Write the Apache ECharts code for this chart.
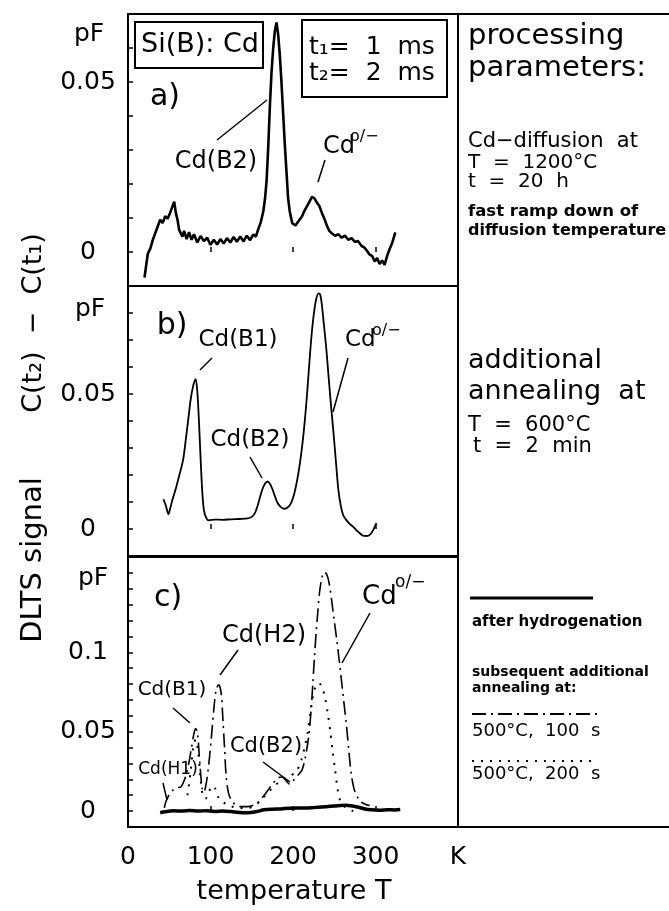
<!DOCTYPE html>
<html><head><meta charset="utf-8">
<script src="https://cdn.jsdelivr.net/npm/echarts@6/dist/echarts.min.js"></script>
<style>html,body{margin:0;padding:0;background:#fff}#c{width:669px;height:911px}</style>
</head><body><div id="c"></div>
<script>
// ---------- DATA ----------
// Panel a) after Cd diffusion
const tempA = [20,22,24,27,30,33,36,39,42,45,48,51,54,56,58,60,62,64,66,68,71,74,77,80,84,88,92,96,100,104,108,112,116,120,124,128,132,136,140,144,148,152,155,158,161,164,166,168,170,172,174,176,178,180,182,184,186,188,190,192,194,196,199,203,207,211,214,217,220,223,226,229,232,235,238,241,244,247,251,255,259,263,267,271,275,279,283,287,290,293,296,299,302,305,308,311,314,317,320,324];
const signalA = [-0.0075,-0.004,-0.0005,0.001,0.0035,0.0055,0.0075,0.0095,0.0085,0.0105,0.0098,0.0115,0.0135,0.0148,0.0115,0.0095,0.0065,0.007,0.0045,0.0062,0.0038,0.0058,0.0036,0.0052,0.0028,0.0047,0.0032,0.0042,0.0021,0.0036,0.0022,0.0038,0.0025,0.0041,0.0028,0.0044,0.003,0.0046,0.0031,0.0048,0.0035,0.0052,0.0045,0.0068,0.0088,0.012,0.0155,0.021,0.031,0.043,0.053,0.06,0.065,0.0675,0.064,0.058,0.05,0.041,0.032,0.024,0.016,0.012,0.0085,0.0078,0.0092,0.0105,0.0122,0.0135,0.0148,0.0162,0.0158,0.0145,0.0135,0.0115,0.0098,0.0078,0.0062,0.0055,0.0048,0.0052,0.0042,0.0048,0.0036,0.0041,0.003,0.0032,0.0018,0.0012,0.0002,-0.0008,-0.0012,-0.0028,-0.0018,-0.0035,-0.0025,-0.0038,-0.0012,0.0008,0.0025,0.0058];

// Panel b) additional annealing 600 C, 2 min
const tempB = [43,46,49,51,54,58,61,64,67,70,73,76,79,82,84,86,88,90,92,95,98,105,115,125,135,145,150,154,157,160,163,166,169,172,175,178,181,185,189,193,197,201,204,207,210,213,216,219,222,225,228,231,233,235,237,240,243,246,249,252,255,258,261,265,269,273,277,281,285,289,293,297,301];
const signalB = [0.011,0.0085,0.0055,0.0075,0.011,0.015,0.0185,0.022,0.026,0.033,0.0405,0.048,0.053,0.0555,0.051,0.04,0.026,0.014,0.007,0.004,0.0032,0.0035,0.0034,0.0036,0.0037,0.0039,0.0045,0.006,0.0085,0.0118,0.0148,0.0168,0.0176,0.0168,0.0148,0.0122,0.0098,0.0082,0.0075,0.0079,0.0092,0.0125,0.0165,0.0215,0.028,0.036,0.046,0.058,0.07,0.079,0.085,0.0873,0.0868,0.083,0.077,0.068,0.057,0.046,0.036,0.025,0.0145,0.0085,0.005,0.0032,0.0018,0.0008,-0.0005,-0.0016,-0.0025,-0.0026,-0.0022,-0.0005,0.0022];

// Panel c) after hydrogenation (solid)
const tempC1 = [39,45,55,65,75,85,95,105,115,125,135,145,155,165,175,185,195,205,215,225,235,245,255,263,270,278,286,295,305,315,323,330];
const signalC1 = [-0.001,-0.0004,0.0002,0,0.0004,0,0.0003,-0.0002,0.0001,-0.0003,-0.0008,-0.001,-0.0004,0.0008,0.0012,0.0014,0.0018,0.002,0.0019,0.0022,0.0026,0.003,0.0034,0.0037,0.0034,0.0026,0.0015,0.0008,0.0006,0.0009,0.0007,0.001];
// Panel c) subsequent annealing 500 C, 100 s (dash-dot)
const tempC2 = [44,46,49,52,56,60,64,70,74,77,80,82,84,86,88,90,92,95,98,101,104,107,110,113,115,117,119,122,127,135,145,155,162,168,175,182,187,192,196,200,205,211,215,219,222,224,226,228,230,232,235,238,241,244,247,250,253,256,259,262,265,268,271,274,277,282,289,293];
const signalC2 = [0.002,0.006,0.0095,0.012,0.0138,0.0148,0.0152,0.022,0.031,0.04,0.049,0.052,0.05,0.038,0.024,0.014,0.012,0.018,0.03,0.046,0.064,0.077,0.0795,0.074,0.058,0.04,0.022,0.011,0.0055,0.003,0.0028,0.0045,0.008,0.012,0.017,0.021,0.0215,0.019,0.017,0.019,0.022,0.026,0.034,0.047,0.064,0.08,0.097,0.112,0.125,0.137,0.147,0.1505,0.149,0.143,0.132,0.12,0.108,0.095,0.081,0.067,0.053,0.036,0.022,0.014,0.01,0.006,0.004,0.0035];
// Panel c) subsequent annealing 500 C, 200 s (dotted)
const tempC3 = [72,76,79,82,85,88,91,94,98,102,106,110,114,117,120,125,135,145,155,163,172,180,188,196,204,210,214,218,221,224,227,230,233,236,239,242,245,248,251,254,257,262,268,273];
const signalC3 = [0.01,0.025,0.04,0.045,0.038,0.02,0.009,0.008,0.012,0.016,0.014,0.008,0.006,0.005,0.004,0.003,0.002,0.002,0.004,0.008,0.013,0.017,0.02,0.022,0.025,0.032,0.04,0.05,0.062,0.072,0.078,0.0805,0.08,0.077,0.071,0.062,0.051,0.038,0.026,0.014,0.007,0.003,0.001,0];

// axes / tick labels
const xTickLabels = ['0','100','200','300','K'];   // at 0,100,200,300,400 K
const yTickLabelsA = ['0','0.05'];
const yTickLabelsB = ['0','0.05'];
const yTickLabelsC = ['0','0.05','0.1'];

// ---------- CHART ----------
const F = 'DejaVu Sans';
const chart = echarts.init(document.getElementById('c'));
const pairs = (xs, ys) => xs.map((x, i) => [x, ys[i]]);
const yFmt = labels => v => {
  for (const l of labels) if (Math.abs(parseFloat(l) - v) < 1e-9) return l;
  return '';
};
const gridDefs = [
  {left:128, top:14, width:330, height:272},
  {left:128, top:286, width:330, height:270},
  {left:128, top:557, width:330, height:270}
];
const yRanges = [[-0.01,0.07],[-0.01,0.09],[-0.01,0.16]];
const yLabelSets = [yTickLabelsA, yTickLabelsB, yTickLabelsC];

const grid = gridDefs.map(g => Object.assign({show:true, borderColor:'#000', borderWidth:2, backgroundColor:'transparent'}, g));
const xAxis = gridDefs.map((g, i) => ({
  type:'value', gridIndex:i, min:0, max:400, interval:100,
  axisLine:{show:false}, splitLine:{show:false},
  axisTick:{show:true, inside:true, length:5, lineStyle:{color:'#000', width:1.5}},
  axisLabel:{show: i===2, color:'#000', fontFamily:F, fontSize:25, margin:18,
    showMinLabel:true, showMaxLabel:true,
    formatter: v => xTickLabels[Math.round(v/100)] || ''}
}));
const yAxis = gridDefs.map((g, i) => ({
  type:'value', gridIndex:i, min:yRanges[i][0], max:yRanges[i][1], interval:0.01,
  axisLine:{show:false}, splitLine:{show:false},
  axisTick:{show:true, inside:true, length:5, lineStyle:{color:'#000', width:1.5}},
  axisLabel:{color:'#000', fontFamily:F, fontSize:25, margin:40, align:'center',
    showMinLabel:true, showMaxLabel:true, formatter: yFmt(yLabelSets[i])}
}));

const line = (name, idx, xs, ys, ls) => ({
  name, type:'line', xAxisIndex:idx, yAxisIndex:idx, data:pairs(xs, ys),
  showSymbol:false, symbol:'none', smooth:ls.smooth || false, animation:false,
  lineStyle:Object.assign({color:'#000'}, ls.style)
});
const series = [
  line('a', 0, tempA, signalA, {style:{width:2.6}}),
  line('b', 1, tempB, signalB, {smooth:0.3, style:{width:1.8}}),
  line('after hydrogenation', 2, tempC1, signalC1, {smooth:0.3, style:{width:3.5}}),
  line('500 °C, 100 s', 2, tempC2, signalC2, {smooth:0.3, style:{width:1.6, type:[14,5,2,5]}}),
  line('500 °C, 200 s', 2, tempC3, signalC3, {smooth:0.3, style:{width:2, type:[2,7]}})
];

// ---------- annotations ----------
const T = (x, y, text, size, o = {}) => ({
  type:'text', x, y, rotation:o.rot || 0, silent:true,
  style:{text, font:(o.bold ? 'bold ' : '') + size + 'px ' + F, fill:'#000',
    textAlign:o.align || 'left', textVerticalAlign:'middle'}
});
const L = (x1, y1, x2, y2, w = 1.5, dash) => ({
  type:'line', silent:true, shape:{x1, y1, x2, y2},
  style:{stroke:'#000', lineWidth:w, lineDash:dash || null}
});
const R = (x, y, w, h) => ({type:'rect', silent:true, shape:{x, y, width:w, height:h}, style:{fill:'none', stroke:'#000', lineWidth:2}});

const graphic = [
  // outer frame pieces for text column
  L(458, 14, 669, 14, 2), L(458, 827, 669, 827, 2),
  // y axis title
  T(33, 560, 'DLTS signal', 29, {align:'center', rot:Math.PI/2}),
  T(34, 323, 'C(t\u2082)  \u2212  C(t\u2081)', 27, {align:'center', rot:Math.PI/2}),
  // pF units
  T(89, 34, 'pF', 25, {align:'center'}), T(90, 309, 'pF', 25, {align:'center'}), T(93, 578, 'pF', 25, {align:'center'}),
  // x axis title
  T(294, 892, 'temperature T', 27, {align:'center'}),
  // panel a
  T(165, 97, 'a)', 30, {align:'center'}),
  R(135, 22, 128, 46), T(200, 45, 'Si(B): Cd', 27, {align:'center'}),
  R(302, 20, 145, 77), T(309, 47, 't\u2081=  1  ms', 25), T(309, 73, 't\u2082=  2  ms', 25),
  T(216, 162, 'Cd(B2)', 24, {align:'center'}), L(217, 140, 267, 100),
  T(323, 147, 'Cd', 24), T(350, 137, 'o/\u2212', 16), L(318, 182, 325, 160),
  // panel b
  T(172, 326, 'b)', 30, {align:'center'}),
  T(238, 340, 'Cd(B1)', 23, {align:'center'}), L(200, 370, 212, 358),
  T(250, 440, 'Cd(B2)', 23, {align:'center'}), L(250, 457, 262, 478),
  T(345, 340, 'Cd', 23), T(372, 331, 'o/\u2212', 16), L(348, 358, 333, 412),
  // panel c
  T(168, 598, 'c)', 30, {align:'center'}),
  T(264, 636, 'Cd(H2)', 24, {align:'center'}), L(238, 650, 220, 675),
  T(362, 597, 'Cd', 26), T(395, 583, 'o/\u2212', 17), L(370, 613, 342, 663),
  T(172, 690, 'Cd(B1)', 20, {align:'center'}), L(173, 708, 190, 723),
  T(266, 747, 'Cd(B2)', 21, {align:'center'}), L(263, 762, 290, 782),
  T(168, 770, 'Cd(H1)', 17, {align:'center'}), L(163, 783, 167, 800),
  // right column, panel a
  T(468, 36, 'processing', 29), T(468, 68, 'parameters:', 29),
  T(468, 142, 'Cd\u2212diffusion  at', 21),
  T(468, 163, 'T  =  1200\u00b0C', 20), T(468, 182, 't  =  20  h', 20),
  T(468, 212, 'fast ramp down of', 16.5, {bold:true}),
  T(468, 231, 'diffusion temperature', 16, {bold:true}),
  // right column, panel b
  T(468, 361, 'additional', 27), T(468, 392, 'annealing  at', 27),
  T(468, 426, 'T  =  600\u00b0C', 21), T(473, 447, 't  =  2  min', 21),
  // right column, panel c (legend)
  L(470, 598, 593, 598, 3),
  T(472, 622, 'after hydrogenation', 15, {bold:true}),
  T(472, 672, 'subsequent additional', 14, {bold:true}),
  T(472, 688, 'annealing at:', 14, {bold:true}),
  L(472, 714, 597, 714, 1.8, [14,5,2,5]),
  T(472, 731, '500\u00b0C,  100  s', 18),
  L(472, 761, 597, 761, 2, [2,7]),
  T(472, 774, '500\u00b0C,  200  s', 18)
];

chart.setOption({
  animation:false, backgroundColor:'#fff',
  grid, xAxis, yAxis, series, graphic
});
</script></body></html>
